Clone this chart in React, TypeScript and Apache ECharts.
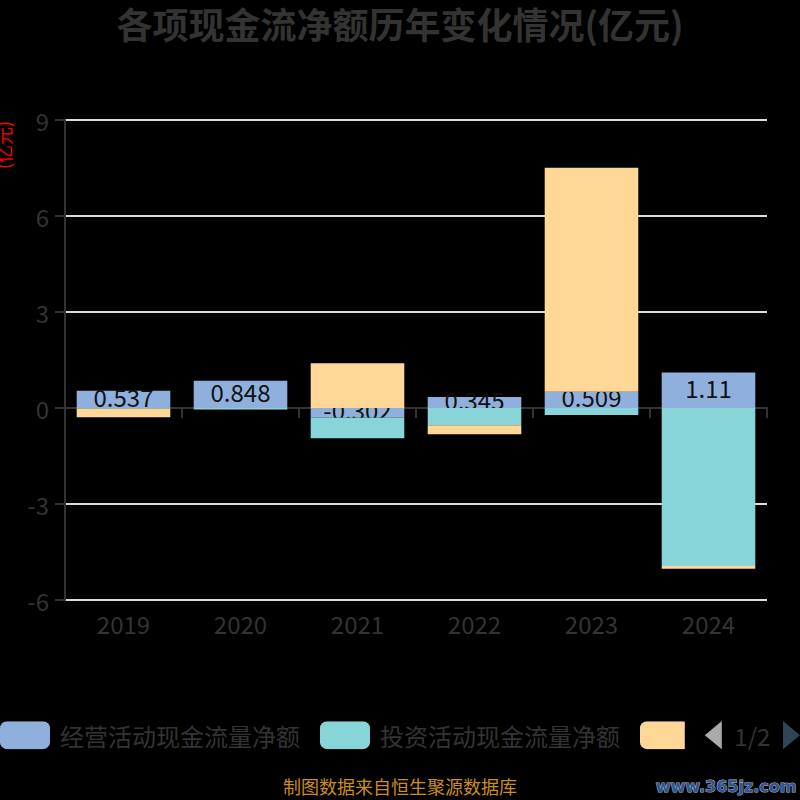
import React, { useEffect, useRef } from "react";
import * as echarts from "echarts";

const years = ["2019", "2020", "2021", "2022", "2023", "2024"];
const operating = [0.537, 0.848, -0.302, 0.345, 0.509, 1.11];
const investing = [-0.02, -0.05, -0.645, -0.54, -0.22, -4.94];
const financing = [-0.27, 0, 1.4, -0.28, 7.0, -0.08];
const seriesNames = ["经营活动现金流量净额", "投资活动现金流量净额", "筹资活动现金流量净额"];
const colors = ["#8fb0dd", "#87d4d9", "#ffd898"];

const FONT = "'Noto Sans CJK SC', 'Noto Sans', sans-serif";

export default function App() {
  const ref = useRef<HTMLDivElement>(null);
  useEffect(() => {
    if (!ref.current) return;
    const chart = echarts.init(ref.current, null, { renderer: "svg" });
    const mk = (i: number, data: number[], withLabel: boolean) => ({
      name: seriesNames[i],
      type: "bar",
      stack: "total",
      barWidth: "80%",
      z: 2 + i,
      xAxisIndex: 0,
      data,
      itemStyle: { color: colors[i] },
      label: withLabel
        ? { show: true, position: "inside", offset: [0, -3], color: "#111", fontSize: 24, fontFamily: FONT }
        : { show: false },
    });
    chart.setOption({
      animation: false,
      backgroundColor: "#000",
      textStyle: { fontFamily: FONT },
      color: colors,
      title: {
        text: "各项现金流净额历年变化情况(亿元)",
        left: "center",
        top: 0,
        textStyle: { color: "#333", fontSize: 36, fontWeight: "bold", fontFamily: FONT },
      },
      legend: {
        type: "scroll",
        left: 0,
        right: 0,
        top: 721,
        padding: 0,
        itemWidth: 50,
        itemHeight: 28,
        itemGap: 20,
        data: seriesNames,
        textStyle: { color: "#333", fontSize: 24, fontFamily: FONT, padding: [0, 0, 4, 5] },
        pageIconSize: [17, 30],
        pageButtonItemGap: 2,
        pageButtonGap: 20,
        pageIconColor: "#2f4554",
        pageIconInactiveColor: "#aaa",
        pageTextStyle: { color: "#333", fontSize: 24, fontFamily: FONT, padding: [0, 0, 4, 0] },
      },
      grid: { left: 65, right: 33, top: 120, bottom: 200, outerBoundsMode: "none", containLabel: false },
      xAxis: [
        {
          type: "category",
          data: years,
          position: "bottom",
          axisLine: { show: false, onZero: false },
          axisTick: { show: false },
          axisLabel: { color: "#333", fontSize: 24, margin: 11, fontFamily: FONT },
        },
        {
          type: "category",
          data: years,
          position: "bottom",
          z: 1,
          axisLine: { show: true, onZero: true, lineStyle: { color: "#333", width: 2 } },
          axisTick: { show: true, length: 10, lineStyle: { color: "#333", width: 2 } },
          axisLabel: { show: false },
        },
      ],
      yAxis: {
        type: "value",
        min: -6,
        max: 9,
        interval: 3,
        axisLine: { show: true, lineStyle: { color: "#333", width: 2 } },
        axisTick: { show: true, length: 10, lineStyle: { color: "#333", width: 2 } },
        axisLabel: { color: "#333", fontSize: 24, margin: 16, fontFamily: FONT, padding: [0, 0, 6, 0] },
        splitLine: { show: true, lineStyle: { color: "#ddd", width: 2 } },
      },
      graphic: [
        {
          type: "text",
          x: 3,
          y: 145,
          rotation: Math.PI / 2,
          style: {
            text: "(亿元)",
            fill: "#ff0000",
            font: `18px ${FONT}`,
            align: "center",
            verticalAlign: "middle",
          },
        },
        {
          type: "text",
          left: "center",
          top: 777,
          style: { text: "制图数据来自恒生聚源数据库", fill: "#c98e1f", font: `18px ${FONT}` },
        },
        {
          type: "text",
          right: 3,
          top: 778,
          style: {
            text: "www.365jz.com",
            fill: "#2b5797",
            stroke: "#b8b8b8",
            lineWidth: 1,
            font: `bold 16px 'DejaVu Sans', sans-serif`,
          },
        },
      ],
      series: [mk(0, operating, true), mk(1, investing, false), mk(2, financing, false)],
    });
    return () => chart.dispose();
  }, []);
  return (
    <div
      ref={ref}
      style={{ position: "fixed", left: 0, top: 0, width: 800, height: 800, background: "#000" }}
    />
  );
}
